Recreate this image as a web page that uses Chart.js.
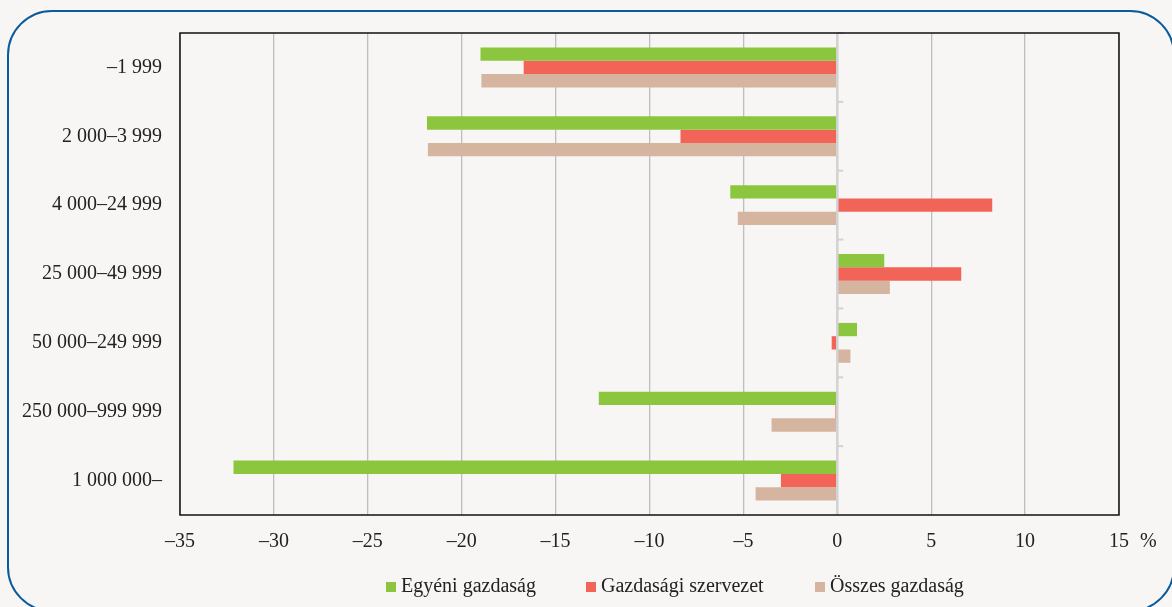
<!DOCTYPE html>
<html>
<head>
<meta charset="utf-8">
<script src="https://cdn.jsdelivr.net/npm/chart.js@4/dist/chart.umd.min.js"></script>
<style>
  html, body { margin:0; padding:0; background:#f7f6f4; overflow:hidden; }
  #wrap { position:relative; width:1172px; height:607px; overflow:hidden; background:#f7f6f4; }
  #frame { position:absolute; left:7px; top:10px; width:1168px; height:602px; border:2.5px solid #0b5b9c; border-radius:45px; box-sizing:border-box; pointer-events:none; }
  canvas { position:absolute; left:0; top:0; }
  #legend { position:absolute; left:0; top:571px; width:1172px; height:28px; font-family:"Liberation Serif", serif; font-size:20px; color:#222; }
  .item { position:absolute; top:0; white-space:nowrap; line-height:28px; }
  .box { display:inline-block; width:10px; height:10px; margin-right:5px; vertical-align:0px; }
</style>
</head>
<body>
<div id="wrap">
  <canvas id="c" width="1172" height="607"></canvas>
  <div id="frame"></div>
  <div id="legend"></div>
</div>
<script>
const categories = ['–1 999', '2 000–3 999', '4 000–24 999', '25 000–49 999', '50 000–249 999', '250 000–999 999', '1 000 000–'];
const seriesNames = ['Egyéni gazdaság', 'Gazdasági szervezet', 'Összes gazdaság'];
const egyeni = [-19.0, -21.85, -5.7, 2.5, 1.05, -12.7, -32.15];
const szervezet = [-16.7, -8.35, 8.25, 6.6, -0.3, -0.1, -3.0];
const osszes = [-18.95, -21.8, -5.3, 2.8, 0.7, -3.5, -4.35];
const xTickValues = [-35, -30, -25, -20, -15, -10, -5, 0, 5, 10, 15];
const xTickLabels = ['–35', '–30', '–25', '–20', '–15', '–10', '–5', '0', '5', '10', '15'];
const unitLabel = '%';
const colors = ['#8cc63f', '#f26358', '#d6b5a0'];

const FONT = '"Liberation Serif", serif';

const framePlugin = {
  id: 'framePlugin',
  afterDatasetsDraw(chart) {
    const { ctx, chartArea: a, scales } = chart;
    const x0 = scales.x.getPixelForValue(0);
    ctx.save();
    // zero line
    ctx.strokeStyle = '#d2d2d2';
    ctx.lineWidth = 2.5;
    ctx.beginPath();
    ctx.moveTo(x0, a.top);
    ctx.lineTo(x0, a.bottom);
    ctx.stroke();
    // small tick marks at category boundaries
    ctx.lineWidth = 2;
    const n = categories.length;
    for (let i = 0; i < n; i++) {
      const y = scales.y.getPixelForValue(i) - (scales.y.getPixelForValue(1) - scales.y.getPixelForValue(0)) / 2;
      ctx.beginPath();
      ctx.moveTo(x0, y);
      ctx.lineTo(x0 + 6, y);
      ctx.stroke();
    }
    // plot border
    ctx.strokeStyle = '#111';
    ctx.lineWidth = 1.5;
    ctx.strokeRect(a.left, a.top, a.right - a.left, a.bottom - a.top);
    // unit label
    ctx.fillStyle = '#222';
    ctx.font = '20px ' + FONT;
    ctx.textAlign = 'left';
    ctx.textBaseline = 'middle';
    ctx.fillText(unitLabel, a.right + 21, a.bottom + 27);
    ctx.restore();
  }
};

const datasets = [egyeni, szervezet, osszes].map((d, i) => ({
  label: seriesNames[i],
  data: d,
  backgroundColor: colors[i],
  borderWidth: 0,
  barPercentage: 1.0,
  categoryPercentage: 0.58
}));

new Chart(document.getElementById('c'), {
  type: 'bar',
  data: { labels: categories, datasets },
  options: {
    indexAxis: 'y',
    responsive: false,
    animation: false,
    devicePixelRatio: 1,
    layout: { padding: { top: 33, right: 53, left: 0, bottom: 0 } },
    plugins: { legend: { display: false }, tooltip: { enabled: false } },
    scales: {
      x: {
        min: -35, max: 15,
        afterBuildTicks: (s) => { s.ticks = xTickValues.map(v => ({ value: v })); },
        afterFit: (s) => { s.height = 92; },
        grid: {
          drawTicks: false,
          color: (c) => (c.tick && c.tick.value === 0) ? 'rgba(0,0,0,0)' : '#bdbec2',
          lineWidth: 1.3
        },
        border: { display: false },
        ticks: {
          padding: 15,
          color: '#222',
          font: { family: FONT, size: 20 },
          callback: (v) => { const i = xTickValues.indexOf(v); return i >= 0 ? xTickLabels[i] : ''; }
        }
      },
      y: {
        afterFit: (s) => { s.width = 180; },
        grid: { display: false, drawTicks: false },
        border: { display: false },
        ticks: {
          padding: 18,
          color: '#222',
          font: { family: FONT, size: 20 }
        }
      }
    }
  },
  plugins: [framePlugin]
});

// legend
const legendLeft = [386, 586, 815];
const lg = document.getElementById('legend');
seriesNames.forEach((name, i) => {
  const it = document.createElement('div');
  it.className = 'item';
  it.style.left = legendLeft[i] + 'px';
  it.innerHTML = '<span class="box" style="background:' + colors[i] + '"></span>' + name;
  lg.appendChild(it);
});
</script>
</body>
</html>
